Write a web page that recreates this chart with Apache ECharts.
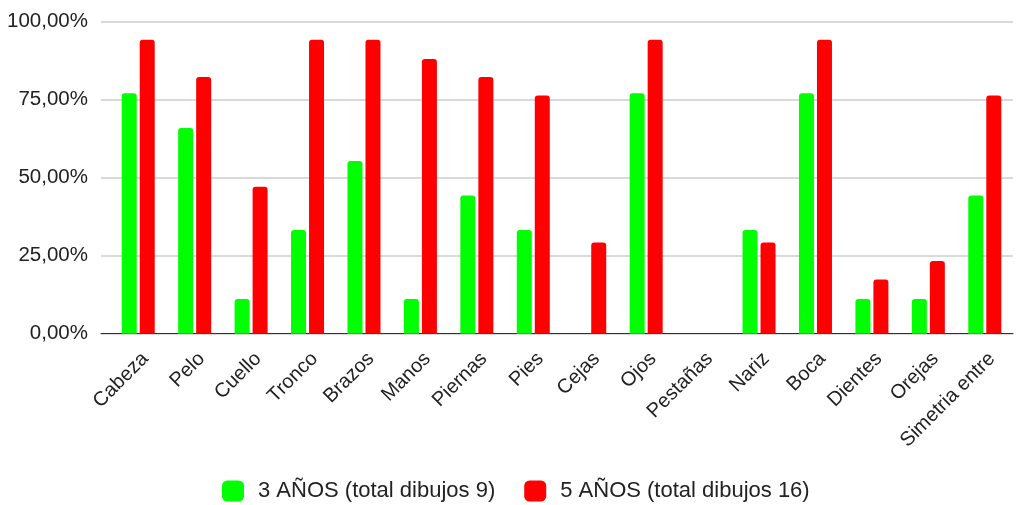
<!DOCTYPE html>
<html>
<head>
<meta charset="utf-8">
<script src="https://cdn.jsdelivr.net/npm/echarts@6/dist/echarts.min.js"></script>
<style>
html,body{margin:0;padding:0;background:#fff;}
#chart{width:1016px;height:505px;}
</style>
</head>
<body>
<div id="chart"></div>
<script>
const categories = ["Cabeza","Pelo","Cuello","Tronco","Brazos","Manos","Piernas","Pies","Cejas","Ojos","Pestañas","Nariz","Boca","Dientes","Orejas","Simetria entre"];
const series3Name = "3 AÑOS (total dibujos 9)";
const series5Name = "5 AÑOS (total dibujos 16)";
const values3 = [77.0, 65.9, 11.1, 33.2, 55.3, 11.1, 44.3, 33.2, 0, 77.0, 0, 33.2, 77.0, 11.1, 11.1, 44.3];
const values5 = [94.12, 82.2, 47.06, 94.12, 94.12, 88.0, 82.2, 76.3, 29.2, 94.12, 0, 29.2, 94.12, 17.4, 23.3, 76.3];
const yTicks = [0, 25, 50, 75, 100];

const FONT = "'Liberation Sans', Arial, sans-serif";
const chart = echarts.init(document.getElementById('chart'));
const fmt = v => v.toFixed(2).replace('.', ',') + '%';

chart.setOption({
  animation: false,
  backgroundColor: '#fff',
  textStyle: { fontFamily: FONT },
  legend: {
    data: [series3Name, series5Name],
    top: 475,
    left: 217,
    icon: 'roundRect',
    itemWidth: 22,
    itemHeight: 21,
    itemGap: 29,
    textStyle: { fontSize: 22, color: '#222', fontFamily: FONT, padding: [0, 0, 0, 9] }
  },
  grid: [
    { left: 101, right: 3, top: 21.5, bottom: 171.3, containLabel: false },
    { left: 110, right: 3, top: 21.5, bottom: 171.3, containLabel: false }
  ],
  xAxis: [
    { gridIndex: 0, type: 'value', min: 0, max: 1, show: true,
      axisLine: { show: true, onZero: false, lineStyle: { color: '#333', width: 1 } },
      axisTick: { show: false }, axisLabel: { show: false }, splitLine: { show: false } },
    { gridIndex: 1, type: 'category', data: categories, boundaryGap: true,
      axisLine: { show: false }, axisTick: { show: false },
      axisLabel: { interval: 0, rotate: 45, fontSize: 20, color: '#222', fontFamily: FONT, margin: 15, verticalAlign: 'top' } }
  ],
  yAxis: [
    { gridIndex: 0, type: 'value', min: 0, max: 100, interval: 25,
      axisLine: { show: false }, axisTick: { show: false },
      axisLabel: { fontSize: 20.5, color: '#222', fontFamily: FONT, margin: 13, formatter: v => yTicks.includes(v) ? fmt(v) : '' },
      splitLine: { lineStyle: { color: '#cccccc', width: 1.5 } } },
    { gridIndex: 1, type: 'value', min: 0, max: 100, interval: 25, show: false }
  ],
  series: [
    { name: series3Name, type: 'bar', xAxisIndex: 1, yAxisIndex: 1, data: values3,
      barWidth: 15, barGap: '20%',
      itemStyle: { color: '#00ff00', borderRadius: [3, 3, 0, 0] } },
    { name: series5Name, type: 'bar', xAxisIndex: 1, yAxisIndex: 1, data: values5,
      barWidth: 15, barGap: '20%',
      itemStyle: { color: '#ff0000', borderRadius: [3, 3, 0, 0] } }
  ]
});
</script>
</body>
</html>
